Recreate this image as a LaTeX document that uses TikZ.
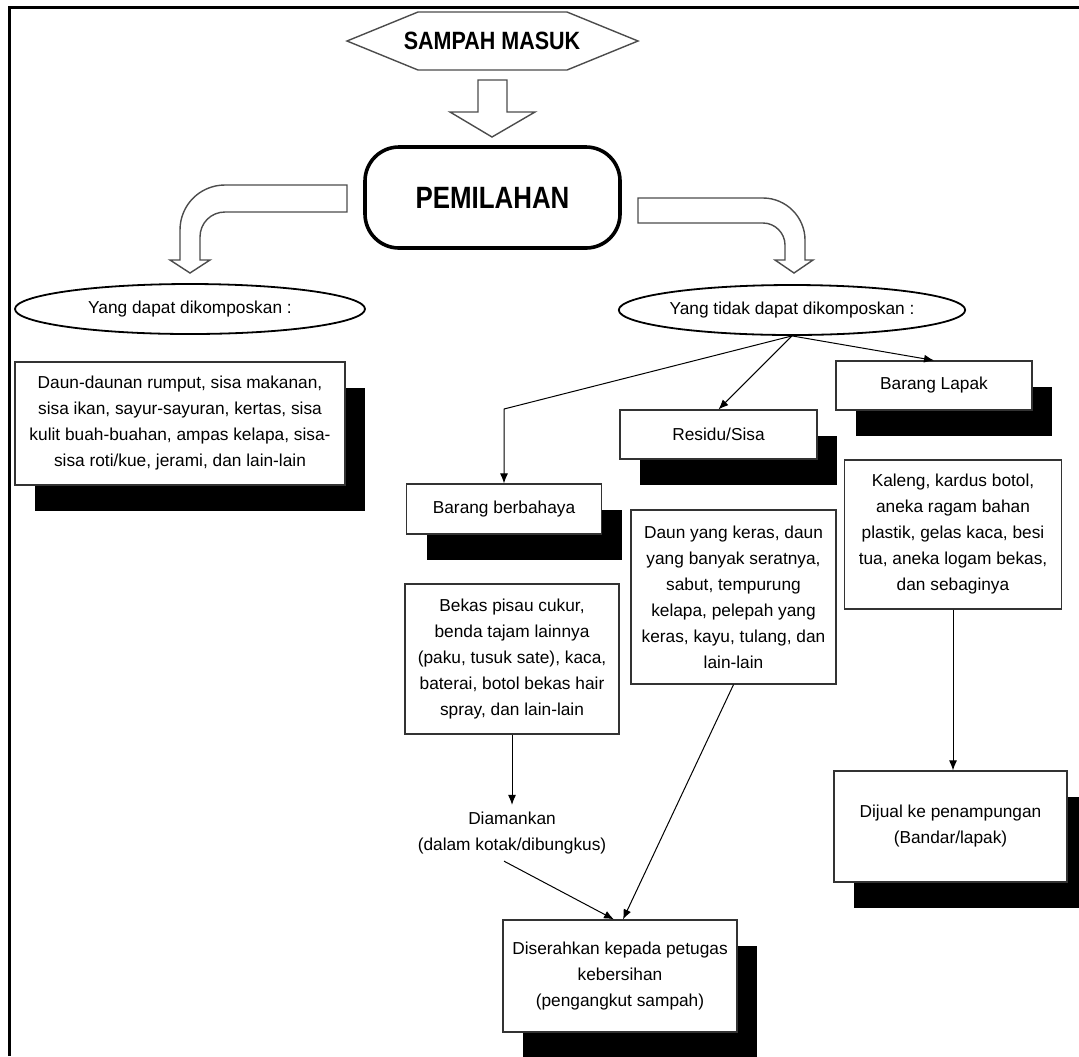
\documentclass[tikz,border=0pt]{standalone}
\usepackage{fontspec}
\setmainfont{Liberation Sans}
\usetikzlibrary{shapes.geometric,shadows,arrows.meta}

\begin{document}
\begin{tikzpicture}[x=0.5pt,y=-0.5pt,>={Latex[length=5pt,width=4pt]},font=\fontsize{8.65pt}{13pt}\selectfont]
    \tikzstyle{blok}=[draw=black!70,line width=0.7pt,fill=white]
    \tikzstyle{kotak}=[draw=black!80,line width=0.6pt,fill=white,inner sep=0pt,align=center]
    \tikzstyle{kotak bayang}=[kotak,drop shadow={shadow xshift=10pt,shadow yshift=-13pt,fill=black,opacity=1}]
    \tikzstyle{elips}=[ellipse,draw=black,line width=0.9pt,inner sep=0pt]
    \tikzstyle{panah}=[->,draw=black,line width=0.5pt]

    \useasboundingbox (0,0) rectangle (1079,1056);

    % Draw the frame
    \draw[line width=1.5pt] (9,1056) -- (9,7) -- (1079,7);

    % Draw the top part
    \draw[blok] (347,41) -- (418,12) -- (567,12) -- (638,41) -- (567,70) -- (418,70) -- cycle;
    \node (masuk) at (492,41) {\scalebox{0.86}[1]{\fontsize{12.5pt}{14pt}\selectfont\bfseries SAMPAH MASUK}};
    \draw[blok] (478,80) -- (507,80) -- (507,112) -- (535,112) -- (492,137) -- (450,112) -- (478,112) -- cycle;
    \node[draw,line width=1.8pt,rounded corners=17pt,minimum width=127.5pt,minimum height=50.5pt] (pilah) at (492.5,197.5)
        {\scalebox{0.84}[1]{\fontsize{15.4pt}{17pt}\selectfont\bfseries PEMILAHAN}};

    % Draw the bent arrows
    \draw[blok] (347,185) -- (225,185) .. controls (200,185) and (180,205) .. (180,230) -- (180,260) -- (170,260)
        -- (190,273) -- (210,260) -- (200,260) -- (200,237) .. controls (200,223) and (211,212) .. (225,212) -- (347,212) -- cycle;
    \draw[blok] (638,198) -- (763,198) .. controls (786,198) and (805,217) .. (805,240) -- (805,260) -- (813,260)
        -- (794,273) -- (775,260) -- (785,260) -- (785,245) .. controls (785,233) and (775,223) .. (763,223) -- (638,223) -- cycle;

    % Draw the two groups
    \node[elips,minimum width=175pt,minimum height=25pt] (kompos) at (190,309) {Yang dapat dikomposkan :};
    \node[elips,minimum width=172pt,minimum height=25pt] (nonkompos) at (792,310) {Yang tidak dapat dikomposkan :};

    % Draw the boxes
    \node[kotak bayang,minimum width=165pt,minimum height=61.5pt] (organik) at (180,423.5)
        {Daun-daunan rumput, sisa makanan,\\sisa ikan, sayur-sayuran, kertas, sisa\\kulit buah-buahan, ampas kelapa, sisa-\\sisa roti/kue, jerami, dan lain-lain};
    \node[kotak bayang,minimum width=98pt,minimum height=24.5pt] (lapak) at (934,385.5) {Barang Lapak};
    \node[kotak bayang,minimum width=98.5pt,minimum height=24.5pt] (residu) at (718.5,434.5) {Residu/Sisa};
    \node[kotak bayang,minimum width=97.5pt,minimum height=25pt] (bahaya) at (504,509) {Barang berbahaya};
    \node[kotak,minimum width=102.5pt,minimum height=87pt] (keras) at (733.5,597)
        {Daun yang keras, daun\\yang banyak seratnya,\\sabut, tempurung\\kelapa, pelepah yang\\keras, kayu, tulang, dan\\lain-lain};
    \node[kotak,minimum width=108.5pt,minimum height=74.5pt] (kaleng) at (953,534.5)
        {Kaleng, kardus botol,\\aneka ragam bahan\\plastik, gelas kaca, besi\\tua, aneka logam bekas,\\dan sebaginya};
    \node[kotak,minimum width=107pt,minimum height=75pt] (bekas) at (512,659)
        {Bekas pisau cukur,\\benda tajam lainnya\\(paku, tusuk sate), kaca,\\baterai, botol bekas hair\\spray, dan lain-lain};
    \node[align=center] (aman) at (512,833) {Diamankan\\(dalam kotak/dibungkus)};
    \node[kotak bayang,minimum width=117pt,minimum height=56pt] (serah) at (620,976)
        {Diserahkan kepada petugas\\kebersihan\\(pengangkut sampah)};
    \node[kotak bayang,minimum width=116.5pt,minimum height=55.5pt] (jual) at (950.5,826.5)
        {Dijual ke penampungan\\(Bandar/lapak)};

    % Connect the boxes
    \coordinate (belok) at (504,409);
    \draw[panah] (nonkompos.south) -- (belok) -- (bahaya.north);
    \foreach \tujuan in {residu,lapak}
        \draw[panah] (nonkompos.south) -- (\tujuan.north);
    \draw[panah] (bekas.south) -- (aman.north);
    \draw[panah] ([xshift=-4pt]aman.south) -- ([xshift=-3pt]serah.north);
    \draw[panah] (keras.south) -- ([xshift=1.5pt]serah.north);
    \draw[panah] (kaleng.south) -- (kaleng.south |- jual.north);
\end{tikzpicture}
\end{document}
